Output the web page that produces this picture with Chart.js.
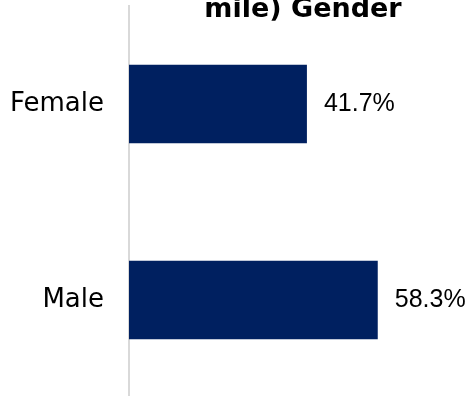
<!DOCTYPE html>
<html>
<head>
<meta charset="utf-8">
<script src="https://cdn.jsdelivr.net/npm/chart.js@4/dist/chart.umd.min.js"></script>
<style>
    html, body { margin: 0; padding: 0; background: #ffffff; }
    .frame { width: 468px; height: 396px; overflow: hidden; position: relative; }
    .chart-box { position: absolute; left: 0; top: 0; width: 468px; height: 404px; }
</style>
</head>
<body>
<div class="frame">
    <div class="chart-box"><canvas id="genderChart"></canvas></div>
</div>
<script>
const categories = ['Female', 'Male'];
const shares = [41.7, 58.3];
const titleText = 'mile) Gender';

// draws the cut-off title and the value labels next to each bar
const labelPlugin = {
    id: 'labelPlugin',
    afterDatasetsDraw(chart) {
        const ctx = chart.ctx;
        ctx.save();
        ctx.fillStyle = '#000000';
        ctx.font = "bold 27px 'DejaVu Sans'";
        ctx.textAlign = 'center';
        ctx.textBaseline = 'alphabetic';
        ctx.fillText(titleText, 303, 17);

        ctx.font = "25px 'Liberation Sans'";
        ctx.textAlign = 'left';
        ctx.textBaseline = 'middle';
        const meta = chart.getDatasetMeta(0);
        meta.data.forEach((bar, i) => {
            ctx.fillText(shares[i].toFixed(1) + '%', bar.x + 17, bar.y);
        });
        ctx.restore();
    }
};

const ctx = document.getElementById('genderChart').getContext('2d');
new Chart(ctx, {
    type: 'bar',
    data: {
        labels: categories,
        datasets: [{
            data: shares,
            backgroundColor: '#002060',
            borderWidth: 0,
            categoryPercentage: 1,
            barPercentage: 0.4
        }]
    },
    options: {
        indexAxis: 'y',
        responsive: true,
        maintainAspectRatio: false,
        animation: false,
        layout: {
            padding: { left: 9, right: 19, top: 6, bottom: 6 }
        },
        plugins: {
            legend: { display: false },
            title: { display: false },
            tooltip: { enabled: false }
        },
        scales: {
            x: {
                display: false,
                min: 0,
                max: 75
            },
            y: {
                grid: { display: false, drawTicks: false },
                border: { display: true, color: '#d9d9d9', width: 2 },
                ticks: {
                    color: '#000000',
                    padding: 25,
                    font: { family: "'DejaVu Sans'", size: 26 }
                },
                afterFit(scale) {
                    // fixed axis width, no extra room for the first/last label
                    scale.width = 120;
                    scale.paddingTop = 0;
                    scale.paddingBottom = 0;
                }
            }
        }
    },
    plugins: [labelPlugin]
});
</script>
</body>
</html>
